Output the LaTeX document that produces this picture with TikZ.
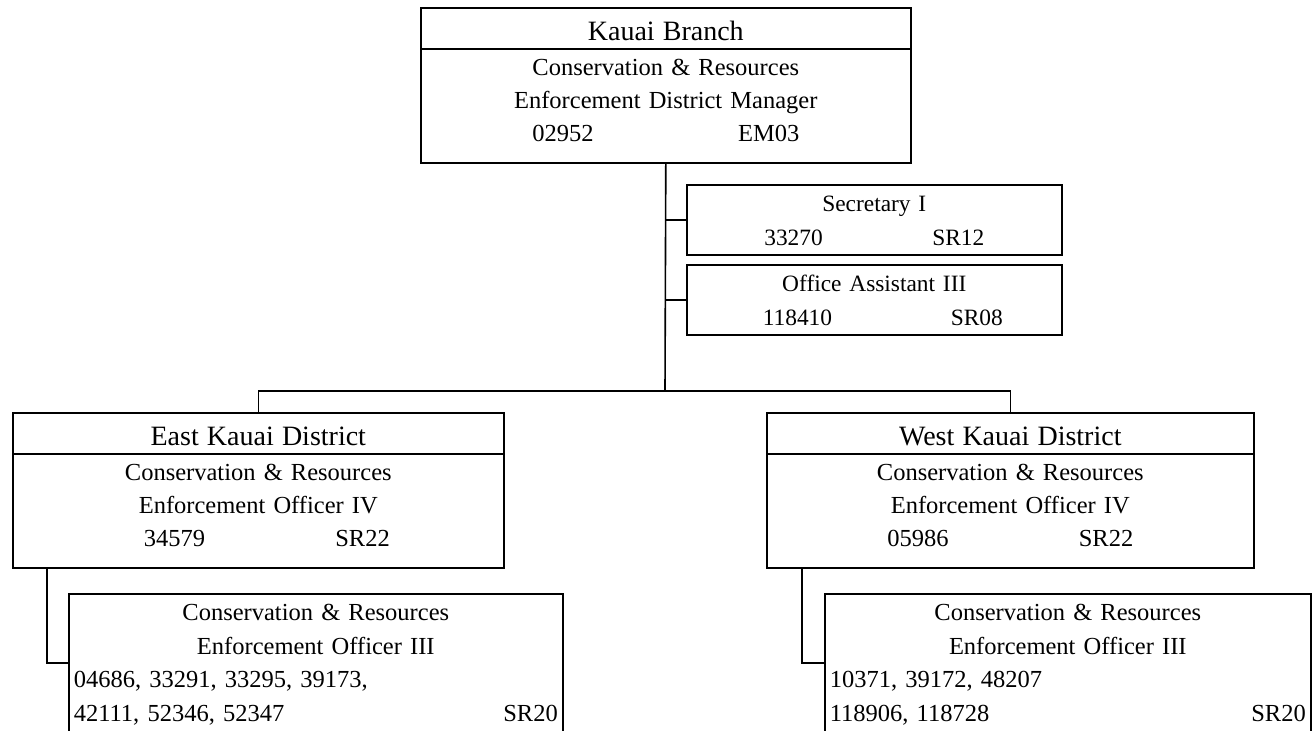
\documentclass[tikz,border=0pt]{standalone}
\usepackage{fontspec}
\setmainfont{Liberation Serif}
\usetikzlibrary{shapes.multipart}

\newcommand{\topgap}[1]{\rule{0pt}{#1}}
\newcommand{\botgap}[1]{\rule[-#1]{0pt}{#1}}
\newcommand{\headstrut}{\rule[-4pt]{0pt}{19.75pt}}
\newcommand{\titlefont}{\fontsize{14pt}{17pt}\selectfont}
\newcommand{\numrow}[3]{\makebox[#1]{#2\hfill#3}}

\tikzstyle{headbox}  = [rectangle split, rectangle split parts=2, draw,
                        inner sep=0pt, align=center, anchor=north west,
                        font=\fontsize{12.25pt}{16.5pt}\selectfont]
\tikzstyle{staffbox} = [rectangle, draw, inner sep=0pt, align=center, anchor=north west,
                        font=\fontsize{11.7pt}{16.75pt}\selectfont]
\tikzstyle{wire}     = [line width=0.8pt]

\begin{document}
\begin{tikzpicture}[x=0.5pt, y=-0.5pt, line width=0.8pt,
			crewbox/.style={rectangle, draw, inner xsep=2.5pt, inner ysep=0pt,
					align=center, anchor=north west,
					font=\fontsize{12.25pt}{16.75pt}\selectfont},
		]
		\clip (0,0) rectangle (1312,730);

		% branch head
		\node[headbox, text width=245pt] (branch) at (420,7)
			{\headstrut{\titlefont Kauai Branch}
			\nodepart{two}\topgap{12.75pt}Conservation \& Resources\\
			Enforcement District Manager\\
			\numrow{133.5pt}{02952}{EM03}\botgap{10.5pt}};

		% staff
		\node[staffbox, text width=187.5pt] (secretary) at (686,184)
			{\topgap{13.5pt}Secretary I\\
			\numrow{110pt}{33270}{SR12}\botgap{4.75pt}};
		\node[staffbox, text width=187.5pt] (office) at (686,264)
			{\topgap{13.5pt}Office Assistant III\\
			\hspace*{8.5pt}\numrow{120pt}{118410}{SR08}\botgap{4.75pt}};

		% districts
		\node[headbox, text width=245.5pt] (eastdist) at (12,412)
			{\headstrut{\titlefont East Kauai District}
			\nodepart{two}\topgap{12.75pt}Conservation \& Resources\\
			Enforcement Officer IV\\
			\hspace*{8.5pt}\numrow{123pt}{34579}{SR22}\botgap{10.5pt}};
		\node[headbox, text width=243.5pt] (westdist) at (766,412)
			{\headstrut{\titlefont West Kauai District}
			\nodepart{two}\topgap{12.75pt}Conservation \& Resources\\
			Enforcement Officer IV\\
			\numrow{123pt}{05986}{SR22}\botgap{10.5pt}};

		% officers
		\node[crewbox, text width=242pt] (eastcrew) at (68,593)
			{\topgap{13.5pt}Conservation \& Resources\\
			Enforcement Officer III\\
			\numrow{\hsize}{04686, 33291, 33295, 39173,}{}\\
			\numrow{\hsize}{42111, 52346, 52347}{SR20}\botgap{5.5pt}};
		\node[crewbox, text width=238pt] (westcrew) at (824,593)
			{\topgap{13.5pt}Conservation \& Resources\\
			Enforcement Officer III\\
			\numrow{\hsize}{10371, 39172, 48207}{}\\
			\numrow{\hsize}{118906, 118728}{SR20}\botgap{5.5pt}};

		% connectors
		\coordinate (split) at (665,391);
		\draw[wire] (branch.south) -- (split);
		\draw[wire] (eastdist.north) |- (split) -| (westdist.north);
		\draw[wire] (secretary.west) -- (secretary.west -| branch.south);
		\draw[wire] (office.west) -- (office.west -| branch.south);
		\draw[wire] ([xshift=17.5pt]eastdist.south west) |- (eastcrew.west);
		\draw[wire] ([xshift=18pt]westdist.south west) |- (westcrew.west);
	\end{tikzpicture}
\end{document}
